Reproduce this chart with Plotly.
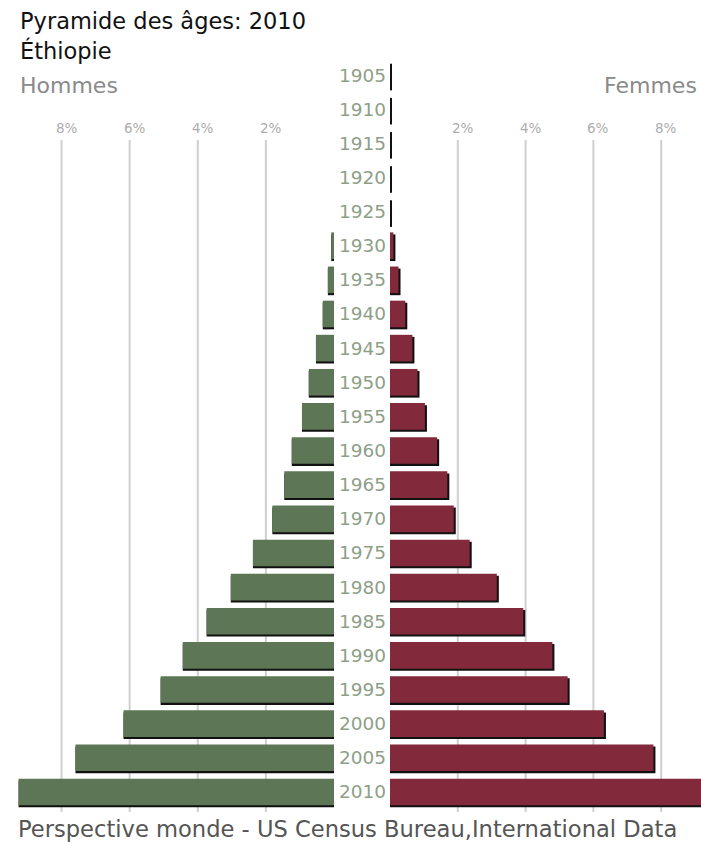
import plotly.graph_objects as go

years = [1905, 1910, 1915, 1920, 1925, 1930, 1935, 1940, 1945, 1950, 1955,
         1960, 1965, 1970, 1975, 1980, 1985, 1990, 1995, 2000, 2005, 2010]
hommes = [0, 0, 0, 0, 0, 0.08, 0.18, 0.33, 0.53, 0.74, 0.94,
          1.24, 1.46, 1.81, 2.38, 3.03, 3.74, 4.44, 5.09, 6.18, 7.59, 9.26]
femmes = [0, 0, 0, 0, 0, 0.1, 0.25, 0.45, 0.66, 0.81, 1.03,
          1.39, 1.69, 1.88, 2.35, 3.15, 3.93, 4.79, 5.24, 6.31, 7.77, 9.4]
tick_vals = [2, 4, 6, 8]
tick_text = ["2%", "4%", "6%", "8%"]

GREEN = "#5d7655"
RED = "#82293b"
SH = 0.06   # shadow offset in % units (~2px)
SHY = 0.3   # shadow offset in year units (~2px)
BW = 3.9

fig = go.Figure()
# shadows
fig.add_trace(go.Bar(x=[v + SH for v in hommes], y=[y + SHY for y in years], base=-SH,
                     orientation="h", width=BW, marker=dict(color="#111111", line_width=0),
                     xaxis="x", yaxis="y", hoverinfo="skip", showlegend=False))
fig.add_trace(go.Bar(x=[v + SH for v in femmes], y=[y + SHY for y in years], base=0,
                     orientation="h", width=BW, marker=dict(color="#111111", line_width=0),
                     xaxis="x2", yaxis="y", hoverinfo="skip", showlegend=False))
# bars
fig.add_trace(go.Bar(x=hommes, y=years, orientation="h", width=BW, name="Hommes",
                     marker=dict(color=GREEN, line_width=0), xaxis="x", yaxis="y", showlegend=False))
fig.add_trace(go.Bar(x=femmes, y=years, orientation="h", width=BW, name="Femmes",
                     marker=dict(color=RED, line_width=0), xaxis="x2", yaxis="y", showlegend=False))

W, H = 701, 843
px_per_year = 34.14 / 5
y_top = 1905 - 75 / px_per_year
y_bot = 1905 + (H - 75) / px_per_year

shapes = []
annotations = []
for tv, tt in zip(tick_vals, tick_text):
    for ax in ("x", "x2"):
        shapes.append(dict(type="line", xref=ax, yref="paper", x0=tv, x1=tv,
                           y0=1 - 140 / H, y1=1 - 812 / H,
                           line=dict(color="#cfcfcf", width=2), layer="below"))
        annotations.append(dict(xref=ax, yref="paper", x=tv, y=1 - 128 / H, text=tt,
                                showarrow=False, xshift=5, yanchor="middle",
                                font=dict(family="DejaVu Sans", size=13.5, color="#adadad")))

for yr in years:
    annotations.append(dict(xref="paper", yref="y", x=362 / W, y=yr, text=str(yr),
                            showarrow=False, yanchor="middle",
                            font=dict(family="DejaVu Sans", size=18.5, color="#8e9f88")))

annotations += [
    dict(xref="paper", yref="paper", x=18 / W, y=1 - 21 / H, xanchor="left", yanchor="middle",
         text="Pyramide des âges: 2010", showarrow=False,
         font=dict(family="DejaVu Sans", size=22.5, color="#111111")),
    dict(xref="paper", yref="paper", x=18 / W, y=1 - 50 / H, xanchor="left", yanchor="middle",
         text="Éthiopie", showarrow=False,
         font=dict(family="DejaVu Sans", size=22.5, color="#111111")),
    dict(xref="paper", yref="paper", x=18 / W, y=1 - 85 / H, xanchor="left", yanchor="middle",
         text="Hommes", showarrow=False,
         font=dict(family="DejaVu Sans", size=22, color="#8a8a8a")),
    dict(xref="paper", yref="paper", x=699 / W, y=1 - 85 / H, xanchor="right", yanchor="middle",
         text="Femmes", showarrow=False,
         font=dict(family="DejaVu Sans", size=22, color="#8a8a8a")),
    dict(xref="paper", yref="paper", x=16 / W, y=1 - 829 / H, xanchor="left", yanchor="middle",
         text="Perspective monde - US Census Bureau,International Data", showarrow=False,
         font=dict(family="DejaVu Sans", size=22.6, color="#555555")),
]

fig.update_layout(
    width=W, height=H, margin=dict(l=0, r=0, t=0, b=0),
    paper_bgcolor="white", plot_bgcolor="rgba(0,0,0,0)",
    barmode="overlay", showlegend=False,
    xaxis=dict(domain=[0, 334 / W], range=[334 / 34.06, 0], showgrid=False,
               zeroline=False, showticklabels=False, fixedrange=True),
    xaxis2=dict(domain=[390 / W, 1], range=[0, 311 / 33.9], showgrid=False,
                zeroline=False, showticklabels=False, fixedrange=True),
    yaxis=dict(domain=[0, 1], range=[y_bot, y_top], showgrid=False, zeroline=False,
               showticklabels=False, fixedrange=True),
    shapes=shapes, annotations=annotations,
)

fig.write_html("out.html", config={"displayModeBar": False},
               post_script="document.body.style.margin='0';document.body.style.overflow='hidden';")
